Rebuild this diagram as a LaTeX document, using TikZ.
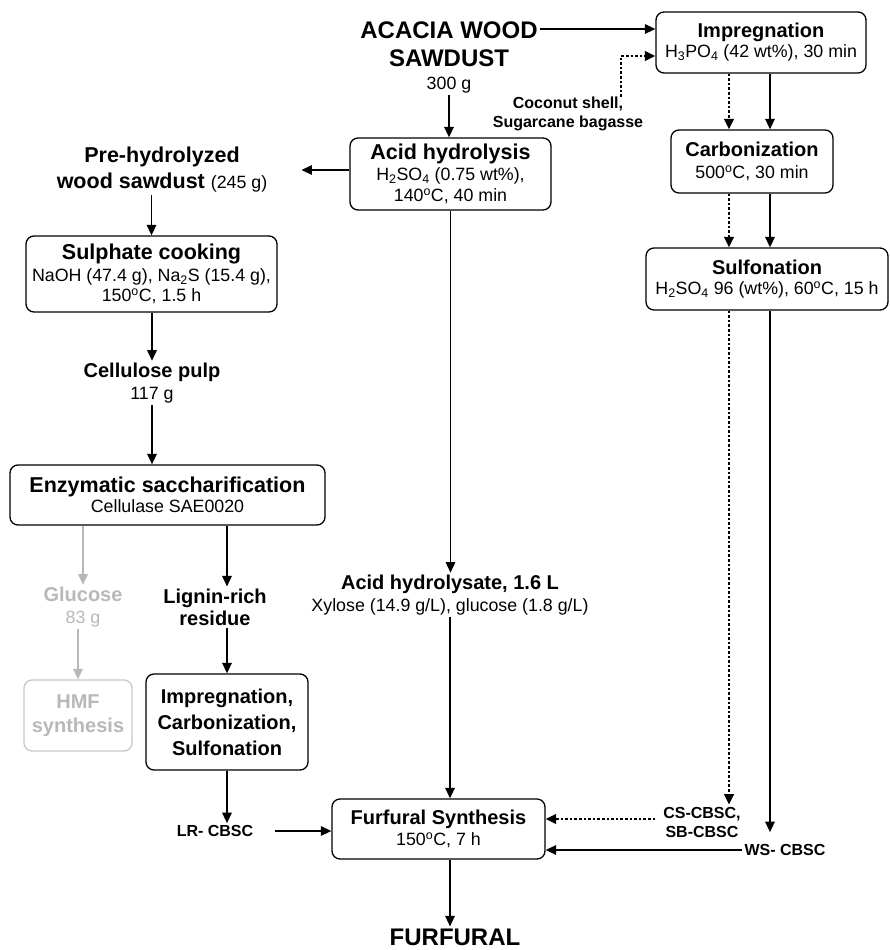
\documentclass[tikz,border=0pt]{standalone}
\usepackage{fontspec}
\setmainfont{Liberation Sans}
\usetikzlibrary{arrows.meta, positioning, calc}

\newcommand{\ftbig}{\fontsize{24}{28}\selectfont\bfseries}
\newcommand{\fthead}{\fontsize{21.5}{26}\selectfont\bfseries}
\newcommand{\ftmid}{\fontsize{20}{22}\selectfont\bfseries}
\newcommand{\ftreg}{\fontsize{17.8}{20}\selectfont\mdseries}
\newcommand{\ftsmall}{\fontsize{16}{19}\selectfont\bfseries}
\newcommand{\dC}{\textsuperscript{o}C}

\begin{document}
\begin{tikzpicture}[
			x=1pt, y=-1pt,
			stage/.style={rectangle, rounded corners=8pt, draw=black, line width=1.3pt, align=center, inner sep=3pt, font=\ftreg},
			flowtext/.style={align=center, inner sep=2pt, font=\ftreg},
			arrow/.style={-{Triangle[length=10.5pt,width=9.5pt]}, line width=1.5pt},
			dotarrow/.style={arrow, line width=2.8pt, dash pattern=on 2.6pt off 2pt},
			grayarrow/.style={arrow, color=black!28}
			]
			\useasboundingbox (0,0) rectangle (890,950);
			
			% middle column
			\node[flowtext, font=\ftbig] (source) at (449,57) {ACACIA WOOD\\SAWDUST\\[-5pt]{\ftreg 300 g}};
			\node[stage, minimum width=201pt, minimum height=72pt] (acid) at (450.5,174) {{\fthead Acid hydrolysis}\\[1pt]H\textsubscript{2}SO\textsubscript{4} (0.75 wt\%),\\[0.5pt]140\dC, 40 min};
			\node[flowtext] (hydrolysate) at (450,595) {{\ftmid Acid hydrolysate, 1.6 L}\\[2pt]Xylose (14.9 g/L), glucose (1.8 g/L)};
			\node[stage, minimum width=213pt, minimum height=60pt] (furf) at (438.5,829) {{\ftmid Furfural Synthesis}\\[1pt]150\dC, 7 h};
			\node[flowtext, font=\ftbig] (product) at (455,937) {FURFURAL};
			
			% right column
			\node[stage, minimum width=210pt, minimum height=61pt] (impreg) at (761,42.5) {{\ftmid Impregnation}\\H\textsubscript{3}PO\textsubscript{4} (42 wt\%), 30 min};
			\node[stage, minimum width=162pt, minimum height=63pt] (carb) at (752,161.5) {{\ftmid Carbonization}\\[2pt]500\dC, 30 min};
			\node[stage, minimum width=242pt, minimum height=62pt] (sulf) at (767,279) {{\ftmid Sulfonation}\\H\textsubscript{2}SO\textsubscript{4} 96 (wt\%), 60\dC, 15 h};
			\node[flowtext, font=\ftsmall] (shells) at (568,114) {Coconut shell,\\Sugarcane bagasse};
			\node[flowtext, font=\ftsmall] (cscbsc) at (702,822) {CS-CBSC,\\SB-CBSC};
			\node[flowtext, font=\ftsmall] (wscbsc) at (785,850) {WS- CBSC};
			\coordinate (shellsout) at (621,97);
			\coordinate (dotx) at (729,0);
			\coordinate (solx) at (770,0);
			
			% left column
			\node[flowtext, font=\fthead] (prehyd) at (162,170) {Pre-hydrolyzed\\wood sawdust {\ftreg(245 g)}};
			\node[stage, minimum width=251pt, minimum height=76pt] (sulphate) at (151.5,274) {{\fthead Sulphate cooking}\\[1.5pt]NaOH (47.4 g), Na\textsubscript{2}S (15.4 g),\\150\dC, 1.5 h};
			\node[flowtext] (pulp) at (152,383) {{\ftmid Cellulose pulp}\\[2pt]117 g};
			\node[stage, minimum width=315pt, minimum height=60pt] (enzym) at (167.5,495) {{\fthead Enzymatic saccharification}\\Cellulase SAE0020};
			\node[flowtext, text=black!28] (glucose) at (83,607) {{\ftmid Glucose}\\[2pt]83 g};
			\node[stage, draw=black!22, text=black!28, minimum width=108pt, minimum height=71pt, font=\ftmid] (hmf) at (78,715.5) {HMF\\[2pt]synthesis};
			\node[flowtext, font=\ftmid] (lignin) at (215,607) {Lignin-rich\\residue};
			\node[stage, minimum width=162pt, minimum height=96pt, font=\ftmid] (ics) at (227,722) {Impregnation,\\[4pt]Carbonization,\\[4pt]Sulfonation};
			\node[flowtext, font=\ftsmall] (lrcbsc) at (215,831) {LR- CBSC};
			
			% feed and char route
			\draw[arrow] ([yshift=28pt]source.east) -- ([yshift=28pt]source.east -| impreg.west);
			\draw[dotarrow] (shellsout) |- ([yshift=-13.5pt]impreg.west);
			\draw[dotarrow] (impreg.south -| dotx) -- (carb.north -| dotx);
			\draw[arrow] (impreg.south -| solx) -- (carb.north -| solx);
			\draw[dotarrow] (carb.south -| dotx) -- (sulf.north -| dotx);
			\draw[arrow] (carb.south -| solx) -- (sulf.north -| solx);
			\draw[dotarrow] (sulf.south -| dotx) -- (cscbsc.north -| dotx);
			\draw[arrow, shorten >=10pt] (sulf.south -| solx) -- (wscbsc.north -| solx);
			\draw[dotarrow, shorten <=6pt] ([yshift=3pt]cscbsc.west) -- ([yshift=3pt]cscbsc.west -| furf.east);
			\draw[arrow] (wscbsc.west) -- (wscbsc.west -| furf.east);
			
			% hydrolysis route
			\draw[arrow] (source.south) -- (source.south |- acid.north);
			\draw[arrow, shorten >=32pt] (acid.west |- prehyd.east) -- (prehyd.east);
			\draw[arrow] (acid.south) -- (acid.south |- hydrolysate.north);
			\draw[arrow] (hydrolysate.south) -- (hydrolysate.south |- furf.north);
			\draw[arrow] (furf.south -| hydrolysate) -- (product.north -| hydrolysate);
			
			% pulp route
			\draw[arrow] (prehyd.south -| sulphate.north) -- (sulphate.north);
			\draw[arrow] (sulphate.south -| pulp.north) -- (pulp.north);
			\draw[arrow] (pulp.south) -- (pulp.south |- enzym.north);
			\draw[grayarrow] (enzym.south -| glucose.north) -- (glucose.north);
			\draw[grayarrow] (glucose.south -| hmf.north) -- (hmf.north);
			\draw[arrow] (enzym.south -| ics.north) -- (lignin.north -| ics.north);
			\draw[arrow] (lignin.south -| ics.north) -- (ics.north);
			\draw[arrow] (ics.south) -- (ics.south |- lrcbsc.north);
			\draw[arrow, shorten <=20pt] (lrcbsc.east) -- (lrcbsc.east -| furf.west);
		\end{tikzpicture}
\end{document}
